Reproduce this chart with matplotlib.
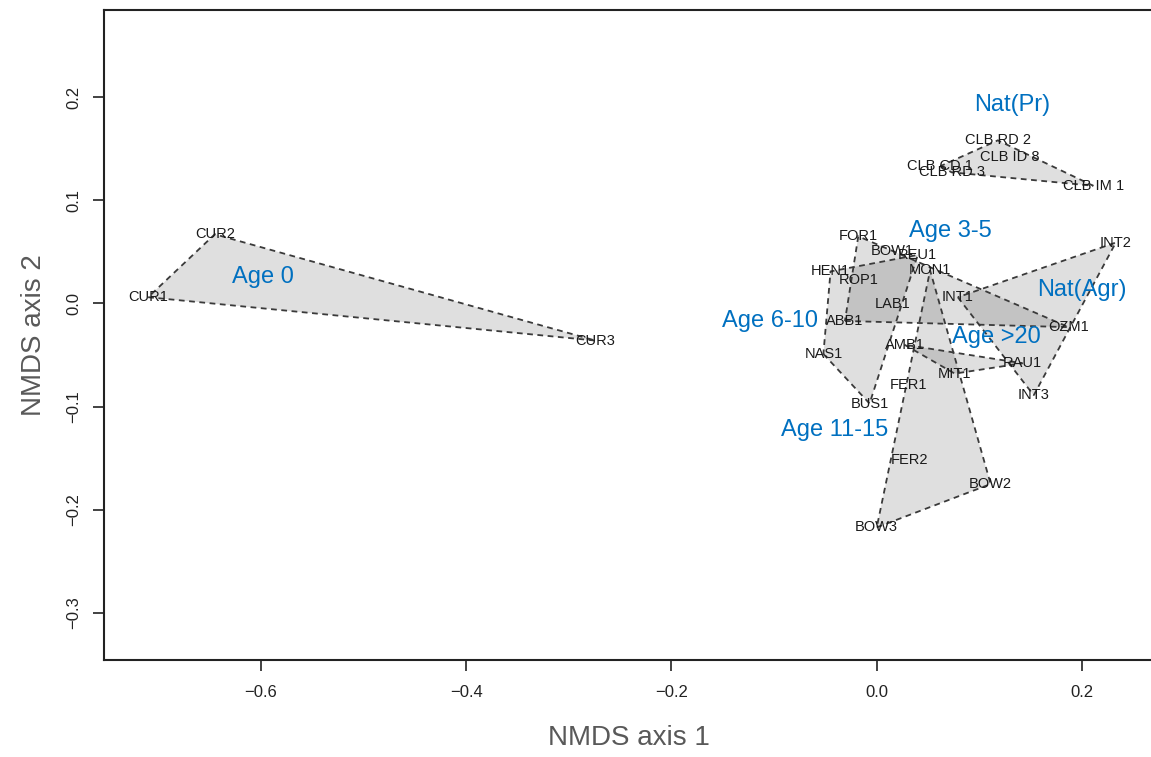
import matplotlib
matplotlib.use("Agg")
import matplotlib.pyplot as plt
from matplotlib.patches import Polygon

plt.rcParams['font.family'] = ['Liberation Sans', 'DejaVu Sans']

# NMDS site scores
sites = ["CUR1", "CUR2", "CUR3",
         "CLB RD 2", "CLB ID 8", "CLB CD 1", "CLB RD 3", "CLB IM 1",
         "FOR1", "BOW1", "REU1", "HEN1", "ROP1", "MON1", "INT1", "LAB1",
         "ABB1", "OZM1", "INT2", "NAS1", "AMB1", "RAU1", "MIT1", "FER1",
         "INT3", "BUS1", "FER2", "BOW2", "BOW3"]
nmds1 = [-0.710, -0.645, -0.274,
         0.118, 0.130, 0.062, 0.073, 0.211,
         -0.018, 0.015, 0.040, -0.045, -0.018, 0.052, 0.079, 0.015,
         -0.031, 0.187, 0.233, -0.052, 0.027, 0.142, 0.076, 0.031,
         0.153, -0.007, 0.032, 0.111, 0.000]
nmds2 = [0.006, 0.067, -0.036,
         0.158, 0.142, 0.133, 0.127, 0.114,
         0.065, 0.051, 0.047, 0.031, 0.023, 0.032, 0.006, -0.001,
         -0.017, -0.023, 0.059, -0.049, -0.040, -0.058, -0.068, -0.079,
         -0.089, -0.097, -0.152, -0.175, -0.217]

# group membership of each site
groups = ["Age 0", "Age 0", "Age 0",
          "Nat(Pr)", "Nat(Pr)", "Nat(Pr)", "Nat(Pr)", "Nat(Pr)",
          "Age 3-5", "Age 3-5", "Age 6-10", "Age 6-10", "Age 3-5", "Age 11-15",
          "Nat(Agr)", "Age 3-5", "Age 3-5", "Age 3-5", "Nat(Agr)", "Age 6-10",
          "Age >20", "Age >20", "Age >20", "Age 11-15", "Nat(Agr)", "Age 6-10",
          "Age 11-15", "Age 11-15", "Age 11-15"]

# group label positions
group_names = ["Age 0", "Age 3-5", "Age 6-10", "Age 11-15", "Age >20",
               "Nat(Agr)", "Nat(Pr)"]
group_lab_x = [-0.598, 0.072, -0.104, -0.041, 0.117, 0.200, 0.132]
group_lab_y = [0.026, 0.070, -0.017, -0.123, -0.033, 0.013, 0.192]

xticks = [-0.6, -0.4, -0.2, 0.0, 0.2]
yticks = [-0.3, -0.2, -0.1, 0.0, 0.1, 0.2]


def convex_hull(pts):
    pts = sorted(set(pts))
    if len(pts) < 3:
        return pts

    def cross(o, a, b):
        return (a[0] - o[0]) * (b[1] - o[1]) - (a[1] - o[1]) * (b[0] - o[0])

    lower, upper = [], []
    for p in pts:
        while len(lower) >= 2 and cross(lower[-2], lower[-1], p) <= 0:
            lower.pop()
        lower.append(p)
    for p in reversed(pts):
        while len(upper) >= 2 and cross(upper[-2], upper[-1], p) <= 0:
            upper.pop()
        upper.append(p)
    return lower[:-1] + upper[:-1]


def fmt(t):
    s = f"{t:.1f}"
    return "0.0" if s in ("0.0", "-0.0") else s.replace("-", "\u2212")


W, H = 1151, 757
fig = plt.figure(figsize=(W / 100, H / 100), dpi=100)
left_px, right_px, top_px, bottom_px = 104, 1153, 10, 660
ax = fig.add_axes([left_px / W, (H - bottom_px) / H,
                   (right_px - left_px) / W, (bottom_px - top_px) / H])
ax.set_xlim(-0.7530, 0.2692)
ax.set_ylim(-0.3455, 0.2843)

# convex hulls per group
for g in group_names:
    pts = [(x, y) for x, y, gg in zip(nmds1, nmds2, groups) if gg == g]
    hull = convex_hull(pts)
    ax.add_patch(Polygon(hull, closed=True, facecolor='black', alpha=0.125,
                         edgecolor='none', zorder=1))
    ax.add_patch(Polygon(hull, closed=True, facecolor='none',
                         edgecolor='#3a3a3a', linewidth=1.3,
                         linestyle=(0, (3.2, 2.5)), zorder=2))

# site labels
for name, x, y in zip(sites, nmds1, nmds2):
    ax.text(x, y, name, ha='center', va='center', fontsize=10.5,
            color='#1a1a1a', zorder=3)

# group labels
for name, x, y in zip(group_names, group_lab_x, group_lab_y):
    ax.text(x, y, name, ha='center', va='center', fontsize=17,
            color='#0070C0', zorder=4)

ax.set_xticks(xticks)
ax.set_xticklabels([fmt(t) for t in xticks])
ax.set_yticks(yticks)
ax.set_yticklabels([fmt(t) for t in yticks], rotation=90, va='center')
ax.tick_params(axis='both', direction='out', length=8, width=1.2,
               labelsize=12, colors='#222222')
ax.tick_params(axis='x', pad=10)
ax.tick_params(axis='y', pad=8.5)

for s in ax.spines.values():
    s.set_linewidth(1.5)
    s.set_color('#222222')

ax.set_xlabel("NMDS axis 1", fontsize=20, color='#595959', labelpad=18)
ax.set_ylabel("NMDS axis 2", fontsize=20, color='#595959', labelpad=14)

fig.savefig("out.png", dpi=100)
